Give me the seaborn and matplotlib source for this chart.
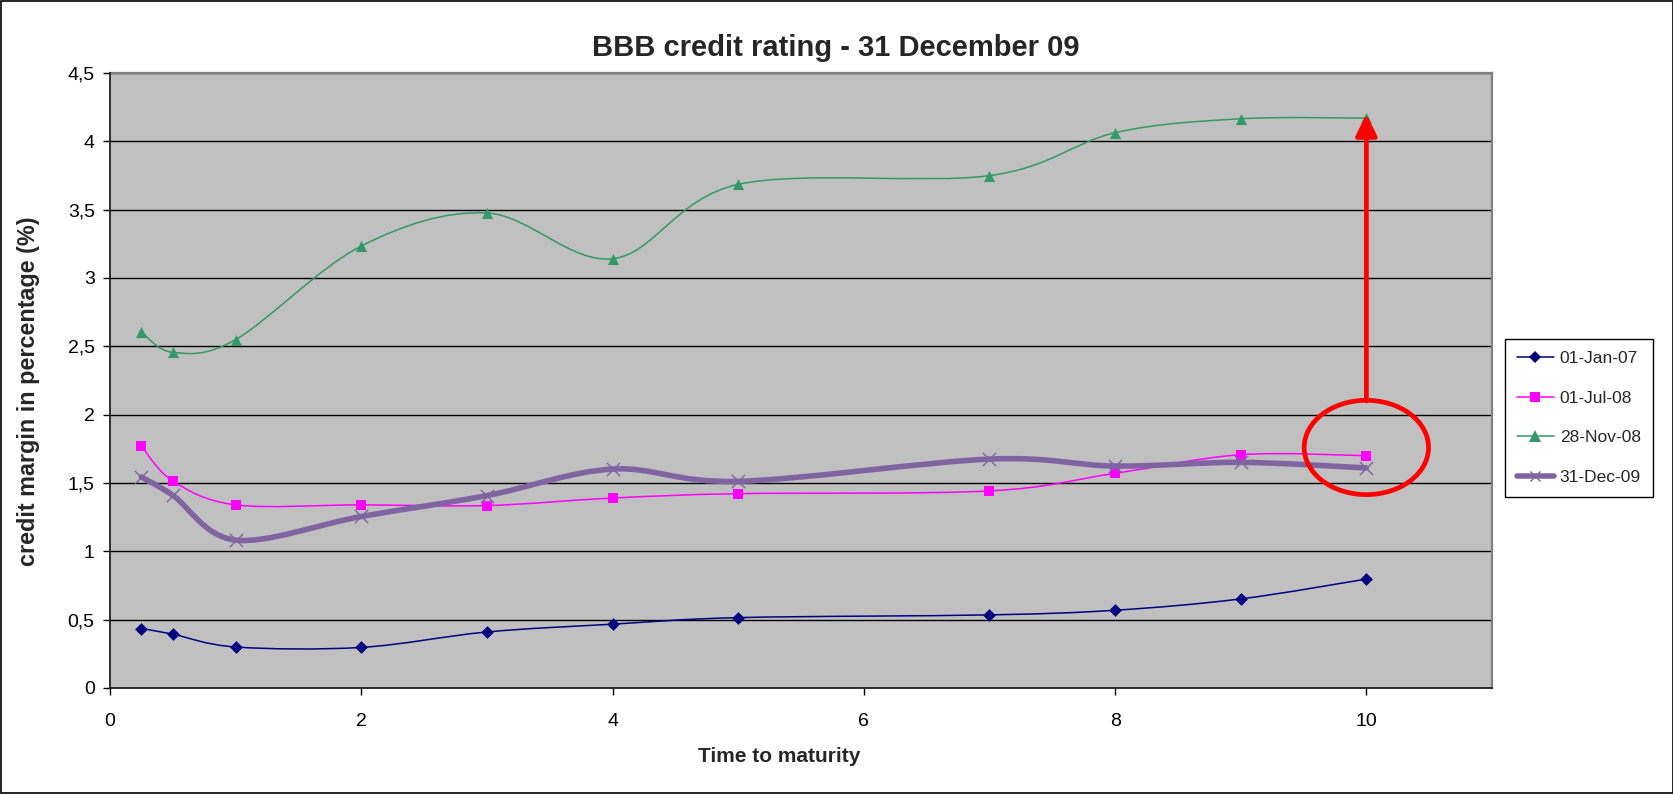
import numpy as np
import pandas as pd
import matplotlib
matplotlib.use("Agg")
import matplotlib.pyplot as plt
from matplotlib.path import Path
from matplotlib.patches import PathPatch, Ellipse, Rectangle
from matplotlib.lines import Line2D
import seaborn as sns

# --- data -------------------------------------------------------------
maturity = [0.25, 0.5, 1, 2, 3, 4, 5, 7, 8, 9, 10]
jan07 = [0.435, 0.394, 0.300, 0.297, 0.410, 0.467, 0.515, 0.535, 0.569, 0.652, 0.797]
jul08 = [1.770, 1.515, 1.340, 1.340, 1.335, 1.390, 1.422, 1.442, 1.571, 1.707, 1.700]
nov08 = [2.605, 2.456, 2.549, 3.234, 3.476, 3.141, 3.685, 3.749, 4.063, 4.165, 4.170]
dec09 = [1.544, 1.410, 1.082, 1.255, 1.408, 1.602, 1.512, 1.675, 1.624, 1.651, 1.610]

series_names = ["01-Jan-07", "01-Jul-08", "28-Nov-08", "31-Dec-09"]
series_values = [jan07, jul08, nov08, dec09]

x_ticks = [0, 2, 4, 6, 8, 10]
x_tick_labels = ["0", "2", "4", "6", "8", "10"]
y_ticks = [0, 0.5, 1, 1.5, 2, 2.5, 3, 3.5, 4, 4.5]
y_tick_labels = ["0", "0,5", "1", "1,5", "2", "2,5", "3", "3,5", "4", "4,5"]

title = "BBB credit rating - 31 December 09"
x_label = "Time to maturity"
y_label = "credit margin in percentage (%)"

# highlight: jump at 10 years, and the cluster circled there
arrow_x, arrow_from, arrow_to = 10, 2.10, 4.20
circle_center, circle_w, circle_h = (10, 1.76), 0.99, 0.69

# --- styles -----------------------------------------------------------
styles = {
    "01-Jan-07": dict(color="#000080", marker="D", ms=6.5, lw=1.1),
    "01-Jul-08": dict(color="#FF00FF", marker="s", ms=7.0, lw=1.1),
    "28-Nov-08": dict(color="#339966", marker="^", ms=8.0, lw=1.1),
    "31-Dec-09": dict(color="#8064A2", marker="x", ms=9.5, lw=4.0),
}

sns.set_theme(style="white")
plt.rcParams["font.family"] = ["Liberation Sans", "DejaVu Sans"]

W, H = 1674, 794
fig = plt.figure(figsize=(W / 100, H / 100), dpi=100)
fig.patch.set_facecolor("white")

left, right, top, bottom = 110, 1492, 73, 688
ax = fig.add_axes([left / W, 1 - bottom / H, (right - left) / W, (bottom - top) / H])
ax.set_facecolor("#C0C0C0")


def smooth_path(xs, ys):
    """Cubic Bezier path through the points, Catmull-Rom style tangents."""
    pts = np.column_stack([xs, ys]).astype(float)
    n = len(pts)
    verts = [pts[0]]
    codes = [Path.MOVETO]
    for i in range(n - 1):
        p0 = pts[max(i - 1, 0)]
        p1 = pts[i]
        p2 = pts[i + 1]
        p3 = pts[min(i + 2, n - 1)]
        c1 = p1 + (p2 - p0) / 6.0
        c2 = p2 - (p3 - p1) / 6.0
        verts += [c1, c2, p2]
        codes += [Path.CURVE4] * 3
    return Path(verts, codes)


df = pd.DataFrame({"maturity": maturity})
for name, vals in zip(series_names, series_values):
    df[name] = vals

for k, name in enumerate(series_names):
    st = styles[name]
    patch = PathPatch(smooth_path(df["maturity"], df[name]), fill=False,
                      edgecolor=st["color"], lw=st["lw"],
                      capstyle="round", joinstyle="round", zorder=3 + 2 * k)
    ax.add_patch(patch)
    if st["marker"] == "x":
        sns.scatterplot(data=df, x="maturity", y=name, ax=ax, marker="x",
                        color=st["color"], s=st["ms"] ** 2, linewidth=1.0,
                        zorder=4 + 2 * k, legend=False)
    else:
        sns.scatterplot(data=df, x="maturity", y=name, ax=ax, marker=st["marker"],
                        color=st["color"], s=st["ms"] ** 2, linewidth=0,
                        zorder=4 + 2 * k, legend=False)

# red annotation
ax.add_patch(Ellipse(circle_center, circle_w, circle_h, fill=False,
                     edgecolor="#FF0000", lw=3.4, zorder=20))
ax.annotate("", xy=(arrow_x, arrow_to), xytext=(arrow_x, arrow_from),
            arrowprops=dict(arrowstyle="-|>,head_length=0.65,head_width=0.32",
                            mutation_scale=20, color="#FF0000", lw=3.4,
                            shrinkA=0, shrinkB=0),
            zorder=21)

# axes
ax.set_xlim(0, 11)
ax.set_ylim(0, 4.5)
ax.set_xticks(x_ticks)
ax.set_xticklabels(x_tick_labels)
ax.set_yticks(y_ticks)
ax.set_yticklabels(y_tick_labels)
ax.set_xlabel("")
ax.set_ylabel("")
ax.grid(axis="y", color="black", lw=1.0, zorder=1)
ax.grid(axis="x", visible=False)
ax.set_axisbelow(True)
ax.tick_params(axis="both", which="both", direction="out", length=5, width=1,
               color="black", labelsize=14, labelcolor="black",
               left=True, bottom=True)
ax.tick_params(axis="x", pad=13)
ax.tick_params(axis="y", pad=6)
for side in ["top", "right"]:
    ax.spines[side].set_color("#808080")
    ax.spines[side].set_linewidth(1.6)
for side in ["left", "bottom"]:
    ax.spines[side].set_color("#202020")
    ax.spines[side].set_linewidth(1.3)
    ax.spines[side].set_zorder(25)

# titles
fig.text(836 / W, 1 - 48 / H, title, ha="center", va="center",
         fontsize=21, fontweight="bold")
fig.text(779 / W, 1 - 756 / H, x_label, ha="center", va="center",
         fontsize=15, fontweight="bold")
fig.text(29 / W, 1 - 391 / H, y_label, ha="center", va="center",
         rotation=90, fontsize=16.8, fontweight="bold")

# legend
handles = []
for name in series_names:
    st = styles[name]
    if st["marker"] == "x":
        h = Line2D([], [], color=st["color"], lw=st["lw"], marker="x",
                   ms=st["ms"] * 0.8, mew=1.0)
    else:
        h = Line2D([], [], color=st["color"], lw=st["lw"], marker=st["marker"],
                   ms=st["ms"], mew=0)
    handles.append(h)
leg = fig.legend(handles, series_names, loc="upper left",
                 bbox_to_anchor=(1505 / W, 1 - 339 / H), borderaxespad=0,
                 fontsize=12.5, frameon=True, fancybox=False, shadow=False,
                 handlelength=2.1, handletextpad=0.35, labelspacing=1.4,
                 borderpad=0.7)
leg.get_frame().set_edgecolor("black")
leg.get_frame().set_linewidth(1.0)
leg.get_frame().set_facecolor("white")
leg.get_frame().set_alpha(1)

# outer frame of the chart
fig.add_artist(Rectangle((0.0006, 0.0013), 0.9988, 0.9974, transform=fig.transFigure,
                         fill=False, edgecolor="black", lw=1.2))

fig.savefig("out.png", dpi=100, facecolor="white")
